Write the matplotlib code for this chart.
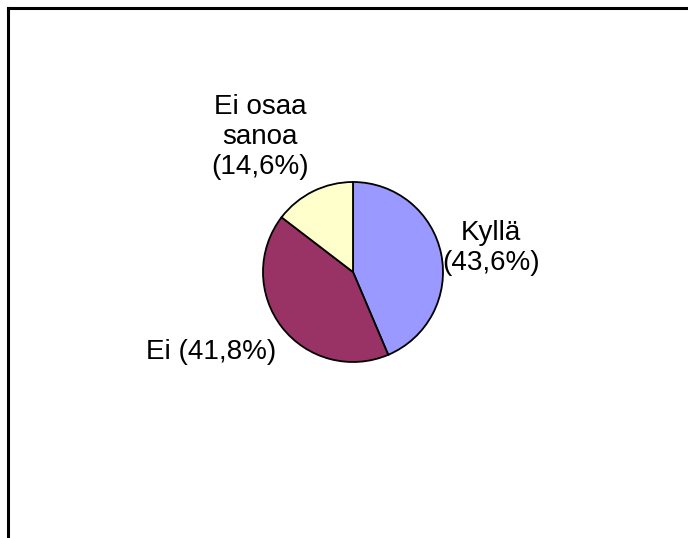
import matplotlib
matplotlib.use('Agg')
import matplotlib.pyplot as plt
from matplotlib.lines import Line2D

# Data
categories = ['Kyllä', 'Ei', 'Ei osaa\nsanoa']
values = [43.6, 41.8, 14.6]
colors = ['#9999FF', '#993366', '#FFFFCC']

# Label anchor points (pixels, y measured from bottom)
label_pos = [(491, 290), (211, 186), (260, 401)]

plt.rcParams['font.family'] = ['Liberation Sans', 'DejaVu Sans']

fig = plt.figure(figsize=(6.88, 5.38), dpi=100)
ax = fig.add_axes([0, 0, 1, 1])

ax.pie(values, colors=colors, startangle=90, counterclock=False,
       center=(353, 266), radius=90, frame=True,
       wedgeprops=dict(edgecolor='black', linewidth=1.3))
ax.set_xlim(0, 688)
ax.set_ylim(0, 538)
ax.set_aspect('equal')
ax.axis('off')

for name, v, (x, y) in zip(categories, values, label_pos):
    pct = f"{v:.1f}".replace('.', ',')
    if name == 'Ei':
        txt = f"{name} ({pct}%)"
    else:
        txt = f"{name}\n({pct}%)"
    ax.text(x, y, txt, ha='center', va='center', fontsize=20,
            linespacing=1.22, color='black')

# border (top and left only, as in the original)
fig.add_artist(Line2D([8 / 688, 1], [1 - 8 / 538, 1 - 8 / 538],
                      transform=fig.transFigure, color='black', lw=2.2))
fig.add_artist(Line2D([8 / 688, 8 / 688], [0, 1 - 8 / 538],
                      transform=fig.transFigure, color='black', lw=2.2))

fig.savefig('out.png', dpi=100, facecolor='white')
